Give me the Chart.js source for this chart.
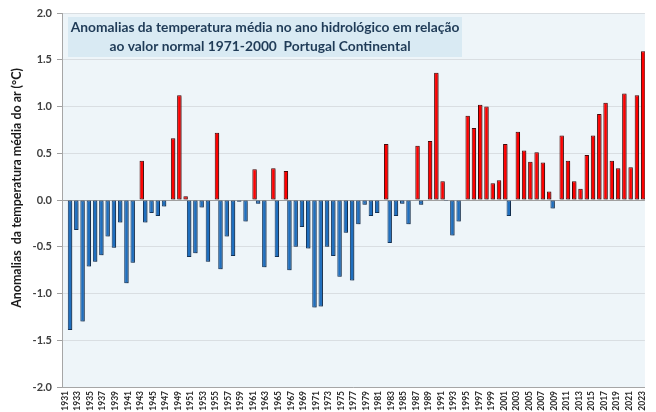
<!DOCTYPE html>
<html>
<head>
<meta charset="utf-8">
<script src="https://cdn.jsdelivr.net/npm/chart.js@4.4.0/dist/chart.umd.min.js"></script>
<style>
    html, body { margin: 0; padding: 0; background: #ffffff; }
</style>
</head>
<body>
<canvas id="anomaliasChart" width="656" height="412"></canvas>
<script>
// Anos hidrológicos (eixo das categorias)
const anos = [
    1931, 1932, 1933, 1934, 1935, 1936, 1937, 1938, 1939, 1940,
    1941, 1942, 1943, 1944, 1945, 1946, 1947, 1948, 1949, 1950,
    1951, 1952, 1953, 1954, 1955, 1956, 1957, 1958, 1959, 1960,
    1961, 1962, 1963, 1964, 1965, 1966, 1967, 1968, 1969, 1970,
    1971, 1972, 1973, 1974, 1975, 1976, 1977, 1978, 1979, 1980,
    1981, 1982, 1983, 1984, 1985, 1986, 1987, 1988, 1989, 1990,
    1991, 1992, 1993, 1994, 1995, 1996, 1997, 1998, 1999, 2000,
    2001, 2002, 2003, 2004, 2005, 2006, 2007, 2008, 2009, 2010,
    2011, 2012, 2013, 2014, 2015, 2016, 2017, 2018, 2019, 2020,
    2021, 2022, 2023
];

// Anomalias da temperatura média (°C)
const anomalias = [
    null, -1.39, -0.32, -1.30, -0.71, -0.66, -0.59, -0.39, -0.51, -0.24,
    -0.89, -0.67, 0.42, -0.24, -0.14, -0.17, -0.07, 0.66, 1.12, 0.04,
    -0.61, -0.57, -0.08, -0.66, 0.72, -0.74, -0.39, -0.60, -0.02, -0.23,
    0.33, -0.04, -0.72, 0.34, -0.61, 0.31, -0.75, -0.50, -0.29, -0.52,
    -1.15, -1.14, -0.50, -0.60, -0.82, -0.35, -0.86, -0.26, -0.05, -0.17,
    -0.14, 0.60, -0.46, -0.17, -0.04, -0.26, 0.58, -0.05, 0.63, 1.36,
    0.20, -0.01, -0.38, -0.23, 0.90, 0.77, 1.02, 1.00, 0.18, 0.21,
    0.60, -0.17, 0.73, 0.53, 0.41, 0.51, 0.40, 0.09, -0.09, 0.69,
    0.42, 0.20, 0.12, 0.48, 0.69, 0.92, 1.04, 0.42, 0.34, 1.14,
    0.35, 1.12, 1.59
];

// Marcas do eixo Y
const marcasY = [-2.0, -1.5, -1.0, -0.5, 0.0, 0.5, 1.0, 1.5, 2.0];

const titulo = [
    'Anomalias da temperatura média no ano hidrológico em relação',
    'ao valor normal 1971-2000  Portugal Continental'
];
const tituloEixoY = 'Anomalias  da temperatura média do ar (°C)';

// Duas séries, como no Excel: negativas a azul, positivas a vermelho
const negativos = anomalias.map(v => (v !== null && v < 0) ? v : null);
const positivos = anomalias.map(v => (v !== null && v >= 0) ? v : null);

const fonte = 'Lato, "Open Sans", sans-serif';

// Fundo da área do gráfico
const fundoPlugin = {
    id: 'fundo',
    beforeDraw(chart) {
        const { ctx, chartArea: a } = chart;
        ctx.save();
        ctx.fillStyle = '#eef5f9';
        ctx.fillRect(a.left, a.top, a.right - a.left, a.bottom - a.top);
        ctx.restore();
    }
};

// Sombra das barras
const sombraPlugin = {
    id: 'sombra',
    beforeDatasetsDraw(chart) {
        const ctx = chart.ctx;
        ctx.save();
        ctx.shadowColor = 'rgba(0, 0, 0, 0.35)';
        ctx.shadowOffsetX = 1.5;
        ctx.shadowOffsetY = 1;
        ctx.shadowBlur = 2;
    },
    afterDatasetsDraw(chart) {
        chart.ctx.restore();
    }
};

// Ajusta o tamanho da letra a uma largura
function ajustarFonte(ctx, texto, largura, peso) {
    let tamanho = 20;
    ctx.font = peso + ' ' + tamanho + 'px ' + fonte;
    tamanho = tamanho * largura / ctx.measureText(texto).width;
    return tamanho;
}

// Caixa do título e título do eixo Y
const textosPlugin = {
    id: 'textos',
    afterDraw(chart) {
        const ctx = chart.ctx;
        ctx.save();

        ctx.fillStyle = '#d9eaf3';
        ctx.fillRect(68, 17, 394, 40);
        const t = ajustarFonte(ctx, titulo[0], 389, 'bold');
        ctx.font = 'bold ' + t.toFixed(2) + 'px ' + fonte;
        ctx.fillStyle = '#1f3b57';
        ctx.textAlign = 'center';
        ctx.textBaseline = 'middle';
        ctx.fillText(titulo[0], 265, 27.5);
        ctx.fillText(titulo[1], 260, 46.5);

        const ty = ajustarFonte(ctx, tituloEixoY, 240, 'bold');
        ctx.font = 'bold ' + ty.toFixed(2) + 'px ' + fonte;
        ctx.fillStyle = '#1a1a1a';
        ctx.translate(17, 188);
        ctx.rotate(-Math.PI / 2);
        ctx.fillText(tituloEixoY, 0, 0);

        ctx.restore();
    }
};

const ctx = document.getElementById('anomaliasChart').getContext('2d');
const anomaliasChart = new Chart(ctx, {
    type: 'bar',
    data: {
        labels: anos,
        datasets: [
            {
                label: 'Negativas',
                data: negativos,
                backgroundColor: '#1f6fbf',
                borderColor: '#173a63',
                borderWidth: 1,
                borderSkipped: false,
                categoryPercentage: 0.885,
                barPercentage: 1.6
            },
            {
                label: 'Positivas',
                data: positivos,
                backgroundColor: '#ff0000',
                borderColor: '#4a0a0a',
                borderWidth: 1,
                borderSkipped: false,
                categoryPercentage: 0.885,
                barPercentage: 1.6
            }
        ]
    },
    options: {
        responsive: false,
        animation: false,
        devicePixelRatio: 1,
        layout: { padding: { top: 13, right: 5, left: 0, bottom: 0 } },
        plugins: {
            legend: { display: false },
            title: { display: false },
            tooltip: { enabled: false }
        },
        scales: {
            x: {
                grid: { display: false, drawTicks: false, tickLength: 0 },
                border: { display: true, color: '#a6a6a6' },
                ticks: {
                    autoSkip: false,
                    minRotation: 90,
                    maxRotation: 90,
                    padding: 4,
                    color: '#2b2b2b',
                    font: { family: fonte, size: 8.5, weight: 'bold' },
                    callback: (v, i) => (i % 2 === 0 ? String(anos[i]) : '')
                },
                afterFit(scale) { scale.height = 25; }
            },
            y: {
                min: -2,
                max: 2,
                afterBuildTicks(scale) {
                    scale.ticks = marcasY.map(v => ({ value: v }));
                },
                grid: {
                    color: c => (c.tick && c.tick.value === 0 ? '#a0a0a0' : '#d9dee2'),
                    tickColor: '#a0a0a0',
                    tickLength: 5
                },
                border: { display: true, color: '#a6a6a6' },
                ticks: {
                    padding: 5,
                    color: '#404040',
                    font: { family: fonte, size: 11, weight: 'bold' },
                    callback: v => Number(v).toFixed(1)
                },
                afterFit(scale) { scale.width = 62; }
            }
        }
    },
    plugins: [fundoPlugin, sombraPlugin, textosPlugin]
});
</script>
</body>
</html>
